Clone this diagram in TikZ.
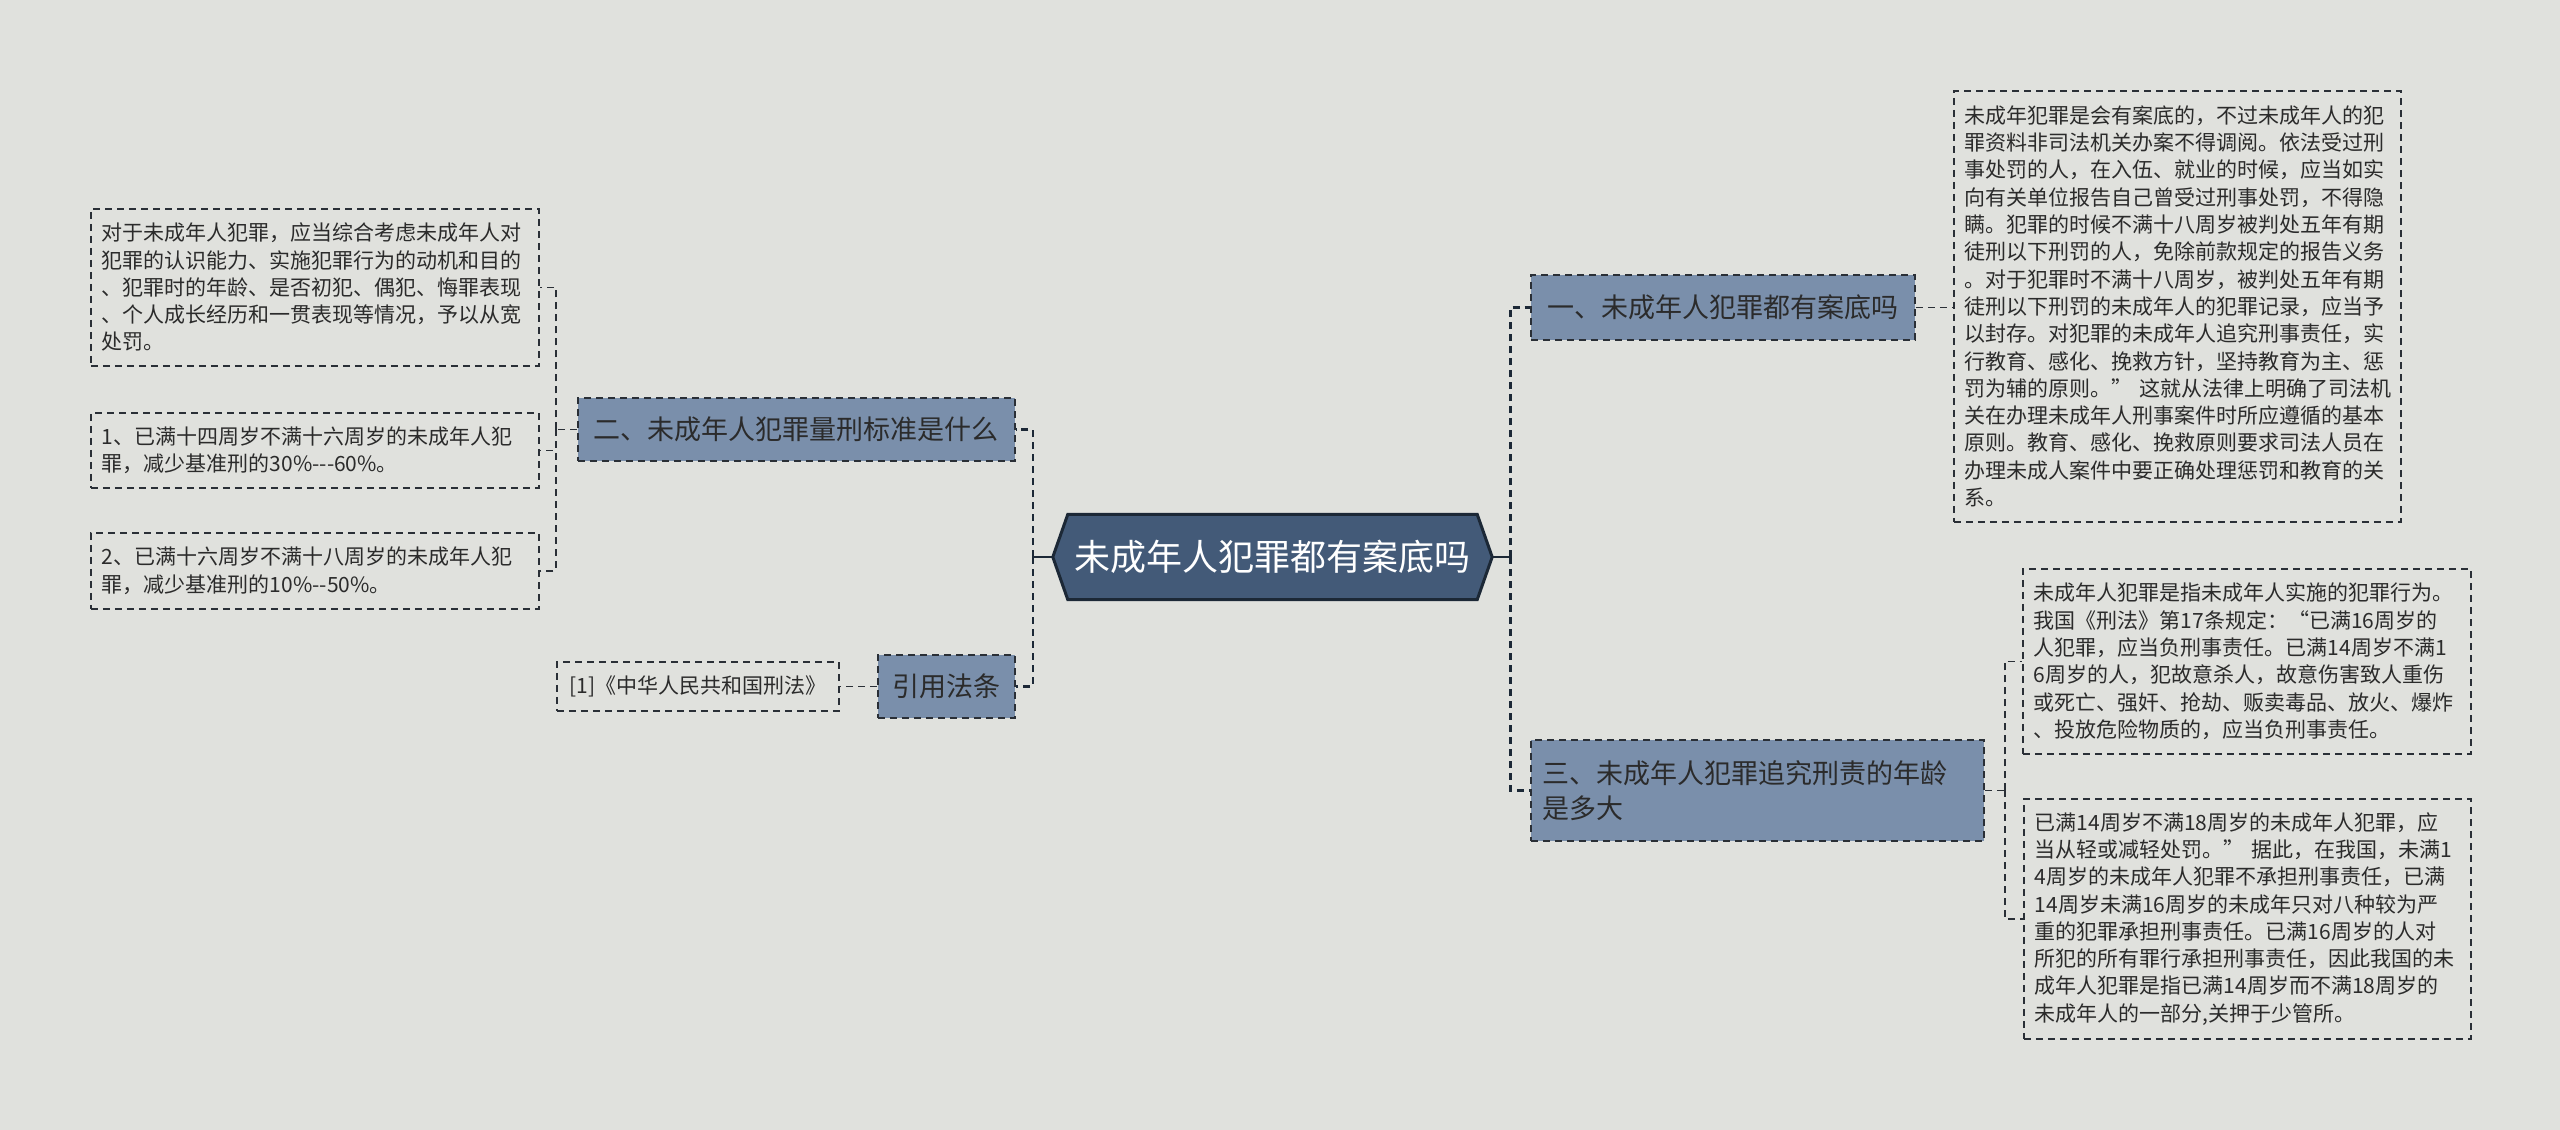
\documentclass[tikz,border=0pt]{standalone}
\usepackage{fontspec}
\setmainfont{Noto Sans CJK SC}[Ligatures=TeXOff]
\usetikzlibrary{calc,backgrounds}
\definecolor{bg}{HTML}{E0E1DD}
\definecolor{cfill}{HTML}{435A78}
\definecolor{cline}{HTML}{1C2836}
\definecolor{bfill}{HTML}{7A8FAB}
\definecolor{tdark}{HTML}{2B2B2B}
\definecolor{lline}{HTML}{2A2F36}
\tikzset{
  leaf/.style={draw=lline, line width=1.6pt, dash pattern=on 7pt off 5pt, anchor=north west,
    inner xsep=11pt, inner ysep=0pt, align=left, text=tdark, font=\fontsize{21}{27.3}\selectfont},
  branch/.style={draw=lline, fill=bfill, line width=1.8pt, dash pattern=on 7pt off 5pt,
    anchor=north west, text=tdark, font=\fontsize{27}{35}\selectfont, inner sep=0pt},
  mainconn/.style={draw=cline, line width=2.6pt, dash pattern=on 7pt off 5pt},
  stubconn/.style={draw=cline, line width=2.6pt},
  leafconn/.style={draw=lline, line width=1.6pt, dash pattern=on 7pt off 5pt},
}
\begin{document}
\begin{tikzpicture}[x=1pt,y=-1pt]
\begin{scope}[on background layer]
  \fill[bg] (0,0) rectangle (2560,1130);
\end{scope}
\useasboundingbox (0,0) rectangle (2560,1130);

% center
\node[minimum width=439pt, minimum height=85pt, inner sep=0pt, text=white,
      font=\fontsize{36}{40}\selectfont] (c) at (1272.5,557) {未成年人犯罪都有案底吗};
\begin{scope}[on background layer]
  \filldraw[fill=cfill, draw=cline, line width=3pt, line join=miter]
    (c.west) -- ($(c.north west)+(15,0)$) -- ($(c.north east)+(-15,0)$) -- (c.east)
    -- ($(c.south east)+(-15,0)$) -- ($(c.south west)+(15,0)$) -- cycle;
\end{scope}

% branches
\node[branch, minimum width=384pt, minimum height=65pt] (n1) at (1530,274) {一、未成年人犯罪都有案底吗};
\node[branch, minimum width=437pt, minimum height=63pt] (n2) at (577,397) {二、未成年人犯罪量刑标准是什么};
\node[branch, minimum width=137pt, minimum height=63pt] (nref) at (877,654) {引用法条};
\node[branch, minimum width=453pt, minimum height=101pt, inner xsep=12pt, text width=429pt, align=left] (n3) at (1530,739) {三、未成年人犯罪追究刑责的年龄\\是多大};

% left leaves
\node[leaf, text width=426pt, minimum height=157pt] (l1) at (90,208) {对于未成年人犯罪，应当综合考虑未成年人对\\犯罪的认识能力、实施犯罪行为的动机和目的\\、犯罪时的年龄、是否初犯、偶犯、悔罪表现\\、个人成长经历和一贯表现等情况，予以从宽\\处罚。};
\node[leaf, text width=426pt, minimum height=75pt] (l2) at (90,412) {1、已满十四周岁不满十六周岁的未成年人犯\\罪，减少基准刑的30\%---60\%。};
\node[leaf, text width=426pt, minimum height=76pt] (l3) at (90,532) {2、已满十六周岁不满十八周岁的未成年人犯\\罪，减少基准刑的10\%--50\%。};
\node[leaf, align=center, minimum width=282pt, minimum height=49pt] (lref) at (556,661) {[1]《中华人民共和国刑法》};

% right leaves
\node[leaf, text width=425pt, minimum height=431pt] (big) at (1953,90) {未成年犯罪是会有案底的，不过未成年人的犯\\罪资料非司法机关办案不得调阅。依法受过刑\\事处罚的人，在入伍、就业的时候，应当如实\\向有关单位报告自己曾受过刑事处罚，不得隐\\瞒。犯罪的时候不满十八周岁被判处五年有期\\徒刑以下刑罚的人，免除前款规定的报告义务\\。对于犯罪时不满十八周岁，被判处五年有期\\徒刑以下刑罚的未成年人的犯罪记录，应当予\\以封存。对犯罪的未成年人追究刑事责任，实\\行教育、感化、挽救方针，坚持教育为主、惩\\罚为辅的原则。”~这就从法律上明确了司法机\\关在办理未成年人刑事案件时所应遵循的基本\\原则。教育、感化、挽救原则要求司法人员在\\办理未成人案件中要正确处理惩罚和教育的关\\系。};
\node[leaf, text width=426pt, minimum height=185pt] (la) at (2022,568) {未成年人犯罪是指未成年人实施的犯罪行为。\\我国《刑法》第17条规定：“已满16周岁的\\人犯罪，应当负刑事责任。已满14周岁不满1\\6周岁的人，犯故意杀人，故意伤害致人重伤\\或死亡、强奸、抢劫、贩卖毒品、放火、爆炸\\、投放危险物质的，应当负刑事责任。};
\node[leaf, text width=425pt, minimum height=240pt] (lb) at (2023,798) {已满14周岁不满18周岁的未成年人犯罪，应\\当从轻或减轻处罚。”~据此，在我国，未满1\\4周岁的未成年人犯罪不承担刑事责任，已满\\14周岁未满16周岁的未成年只对八种较为严\\重的犯罪承担刑事责任。已满16周岁的人对\\所犯的所有罪行承担刑事责任，因此我国的未\\成年人犯罪是指已满14周岁而不满18周岁的\\未成年人的一部分,关押于少管所。};

% connectors center -> branches
\draw[stubconn] (c.west) -- ++(-20,0) coordinate (lj);
\draw[mainconn] (lj) |- (n2.east);
\draw[mainconn] (lj) |- (nref.east);
\draw[stubconn] (c.east) -- ++(18,0) coordinate (rj);
\draw[mainconn] (rj) |- (n1.west);
\draw[mainconn] (rj) |- (n3.west);

% branch -> leaves
\draw[leafconn] (n1.east) -- (n1.east -| big.west);
\draw[leafconn] (n3.east) -- ++(20,0) coordinate (j3);
\draw[leafconn] (j3) |- (la.west);
\draw[leafconn] (j3) |- (lb.west);
\draw[leafconn] (n2.west) -- ++(-21,0) coordinate (j2);
\draw[leafconn] (j2) |- (l1.east);
\draw[leafconn] (j2) |- (l2.east);
\draw[leafconn] (j2) |- (l3.east);
\draw[leafconn] (nref.west) -- (nref.west -| lref.east);
\end{tikzpicture}
\end{document}
